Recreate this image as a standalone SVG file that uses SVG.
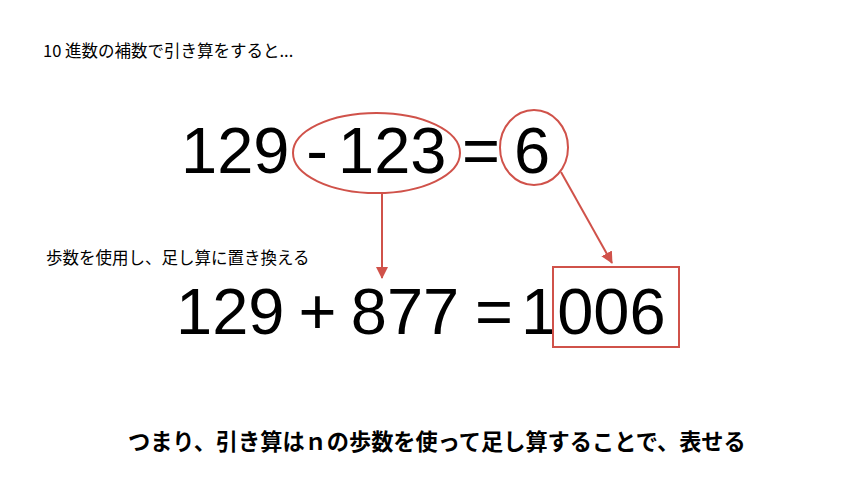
<svg xmlns="http://www.w3.org/2000/svg" width="842" height="494" viewBox="0 0 842 494">
<defs>
<style>
.jp{font-family:"Noto Sans CJK JP","Noto Sans",sans-serif;fill:#000}
.big{font-family:"Liberation Sans",Arial,sans-serif;font-size:65px;fill:#000}
.red{fill:none;stroke:#d0524a;stroke-width:2}
</style>
<marker id="ah" markerWidth="12" markerHeight="12" viewBox="0 0 12 12" refX="11" refY="6" orient="auto" markerUnits="userSpaceOnUse">
<path d="M0,0 L12,6 L0,12 Z" fill="#d0524a"/>
</marker>
</defs>
<rect width="842" height="494" fill="#fff"/>
<g id="label-top"><text class="jp" x="43" y="57" font-size="16.5">10 進数の補数で引き算をすると...</text></g>
<g id="eq-top">
<text class="big" x="181" y="173">129</text>
<text class="big" x="317" y="173" text-anchor="middle">-</text>
<text class="big" x="338" y="173">123</text>
<text class="big" x="481" y="173" text-anchor="middle">=</text>
<text class="big" x="532" y="173" text-anchor="middle">6</text>
</g>
<g id="ellipse-123"><ellipse class="red" cx="376.5" cy="153" rx="83.5" ry="40"/></g>
<g id="circle-6"><ellipse class="red" cx="534" cy="147.5" rx="34" ry="37.5"/></g>
<g id="label-mid"><text class="jp" x="46" y="264" font-size="16.5">歩数を使用し、足し算に置き換える</text></g>
<g id="eq-bottom">
<text class="big" x="176" y="334">129</text>
<text class="big" x="317.5" y="334" text-anchor="middle">+</text>
<text class="big" x="405" y="334" text-anchor="middle">877</text>
<text class="big" x="494" y="334" text-anchor="middle">=</text>
<text class="big" x="521" y="334">1006</text>
</g>
<g id="box-006"><rect class="red" x="553" y="267" width="126" height="80"/></g>
<g id="connectors">
<line class="red" x1="382" y1="193" x2="382" y2="278" marker-end="url(#ah)"/>
<line class="red" x1="561" y1="172" x2="612" y2="263" marker-end="url(#ah)"/>
</g>
<g id="label-bottom"><text class="jp" x="128" y="450" font-size="22.2" font-weight="bold">つまり、引き算はｎの歩数を使って足し算することで、表せる</text></g>
</svg>
